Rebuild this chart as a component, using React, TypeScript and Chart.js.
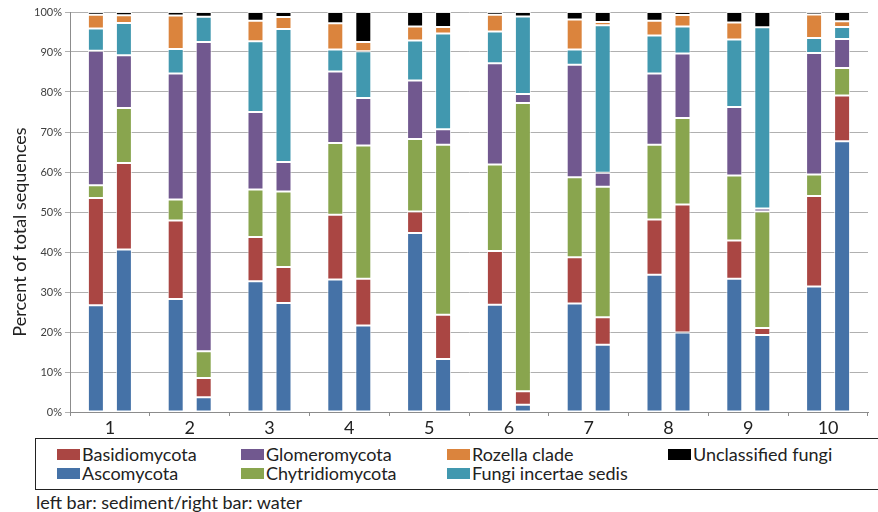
import React, { useEffect, useRef } from 'react';
import { Chart, registerables } from 'chart.js';

Chart.register(...registerables);

// ---- data (percent of total sequences) ----
const groups = ['1', '2', '3', '4', '5', '6', '7', '8', '9', '10'];

const ascoSediment = [26.7, 28.25, 32.7, 33.1, 44.75, 26.8, 27.1, 34.3, 33.3, 31.4];
const ascoWater = [40.6, 3.7, 27.25, 21.6, 13.25, 1.8, 16.8, 19.9, 19.25, 67.7];
const basidioSediment = [26.8, 19.65, 11.05, 16.2, 5.35, 13.45, 11.6, 13.8, 9.6, 22.6];
const basidioWater = [21.65, 4.8, 9.0, 11.7, 11.05, 3.4, 6.9, 32.0, 1.75, 11.4];
const chytridSediment = [3.2, 5.2, 11.85, 17.95, 18.15, 21.65, 20.0, 18.7, 16.2, 5.4];
const chytridWater = [13.75, 6.7, 18.85, 33.3, 42.5, 72.05, 32.6, 21.6, 29.1, 6.9];
const glomeroSediment = [33.6, 31.5, 19.4, 17.85, 14.65, 25.3, 28.1, 17.8, 17.15, 30.35];
const glomeroWater = [13.2, 77.3, 7.4, 11.9, 3.9, 2.25, 3.5, 16.1, 0.8, 7.25];
const incertaeSediment = [5.6, 6.15, 17.7, 5.5, 10.0, 7.9, 3.8, 9.5, 16.85, 3.75];
const incertaeWater = [8.05, 6.3, 33.25, 11.7, 23.9, 19.4, 36.9, 6.8, 45.3, 3.0];
const rozellaSediment = [3.4, 8.35, 5.1, 6.6, 3.5, 4.2, 7.5, 3.7, 4.3, 5.9];
const rozellaWater = [1.95, 0, 3.0, 2.3, 1.65, 0, 0.8, 2.85, 0, 1.45];
const unclassSediment = [0.7, 0.9, 2.2, 2.8, 3.6, 0.7, 1.9, 2.2, 2.6, 0.6];
const unclassWater = [0.8, 1.2, 1.25, 7.5, 3.75, 1.1, 2.5, 0.75, 3.8, 2.3];

const seriesNames = [
  'Ascomycota',
  'Basidiomycota',
  'Chytridiomycota',
  'Glomeromycota',
  'Fungi incertae sedis',
  'Rozella clade',
  'Unclassified fungi',
];
const seriesColors = ['#4572A7', '#AA4643', '#89A54E', '#71588F', '#4198AF', '#DB843D', '#000000'];
const sedimentData = [ascoSediment, basidioSediment, chytridSediment, glomeroSediment, incertaeSediment, rozellaSediment, unclassSediment];
const waterData = [ascoWater, basidioWater, chytridWater, glomeroWater, incertaeWater, rozellaWater, unclassWater];

const yTitle = 'Percent of total sequences';
const footnote = 'left bar: sediment/right bar: water';

// legend layout: [series index, column, row]
const legendItems: [number, number, number][] = [
  [1, 0, 0], [3, 1, 0], [5, 2, 0], [6, 3, 0],
  [0, 0, 1], [2, 1, 1], [4, 2, 1],
];
const legendCols = [57, 241, 447, 668];
const legendRows = [454, 473];

const FONT = 'Lato, "Open Sans", "Liberation Sans", sans-serif';
const CANVAS_W = 878;
const CANVAS_H = 436;

const yTitlePlugin = {
  id: 'yTitleCustom',
  afterDraw(chart: any) {
    const ctx = chart.ctx;
    ctx.save();
    ctx.translate(20, 232);
    ctx.rotate(-Math.PI / 2);
    ctx.font = '18px ' + FONT;
    ctx.fillStyle = '#222';
    ctx.textAlign = 'center';
    ctx.textBaseline = 'middle';
    ctx.fillText(yTitle, 0, 0);
    ctx.restore();
  },
};

export default function App() {
  const ref = useRef<HTMLCanvasElement | null>(null);

  useEffect(() => {
    if (!ref.current) return;
    const datasets: any[] = [];
    seriesNames.forEach((name, i) => {
      datasets.push({
        label: name + ' (sediment)',
        data: sedimentData[i],
        backgroundColor: seriesColors[i],
        borderColor: 'rgba(255,255,255,0.75)',
        borderWidth: 1,
        borderSkipped: false,
        stack: 'sediment',
        categoryPercentage: 0.702,
        barPercentage: 0.571,
      });
      datasets.push({
        label: name + ' (water)',
        data: waterData[i],
        backgroundColor: seriesColors[i],
        borderColor: 'rgba(255,255,255,0.75)',
        borderWidth: 1,
        borderSkipped: false,
        stack: 'water',
        categoryPercentage: 0.702,
        barPercentage: 0.571,
      });
    });

    const chart = new Chart(ref.current, {
      type: 'bar',
      data: { labels: groups, datasets },
      plugins: [yTitlePlugin],
      options: {
        animation: false,
        responsive: false,
        devicePixelRatio: 1,
        layout: { padding: { left: 0, right: 10, top: 12, bottom: 0 } },
        plugins: { legend: { display: false }, tooltip: { enabled: false } },
        scales: {
          x: {
            stacked: true,
            afterFit: (s: any) => { s.height = CANVAS_H - 412; },
            grid: { drawOnChartArea: false, drawTicks: true, tickLength: 4, color: '#8c8c8c', offset: true },
            border: { display: true, color: '#8c8c8c' },
            ticks: { font: { family: FONT, size: 18 }, color: '#222', padding: 1 },
          },
          y: {
            stacked: true,
            min: 0,
            max: 100,
            afterFit: (s: any) => { s.width = 70; },
            ticks: {
              stepSize: 10,
              callback: (v: any) => v + '%',
              font: { family: FONT, size: 11 },
              color: '#404040',
              padding: 3,
            },
            grid: { color: '#b0b0b0', tickLength: 5 },
            border: { display: true, color: '#8c8c8c' },
            title: { display: false },
          },
        },
      },
    });
    return () => chart.destroy();
  }, []);

  return (
    <div style={{ position: 'absolute', left: 0, top: 0, width: 878, height: 512, overflow: 'hidden', background: '#fff', fontFamily: FONT, color: '#222' }}>
      <canvas ref={ref} width={CANVAS_W} height={CANVAS_H} style={{ position: 'absolute', left: 0, top: 0, width: CANVAS_W, height: CANVAS_H }} />
      <div style={{ position: 'absolute', left: 35, top: 438, width: 860, height: 52, border: '1.5px solid #222', boxSizing: 'border-box' }} />
      {legendItems.map(([si, col, row]) => (
        <div key={si} style={{ position: 'absolute', left: legendCols[col], top: legendRows[row] - 10, height: 20, display: 'flex', alignItems: 'center', whiteSpace: 'nowrap' }}>
          <span style={{ display: 'inline-block', width: 23, height: 11, background: seriesColors[si], marginRight: 2 }} />
          <span style={{ fontSize: 18, lineHeight: '20px' }}>{seriesNames[si]}</span>
        </div>
      ))}
      <div style={{ position: 'absolute', left: 36, top: 492, fontSize: 18, lineHeight: '20px', whiteSpace: 'nowrap' }}>
        {footnote}
      </div>
    </div>
  );
}
